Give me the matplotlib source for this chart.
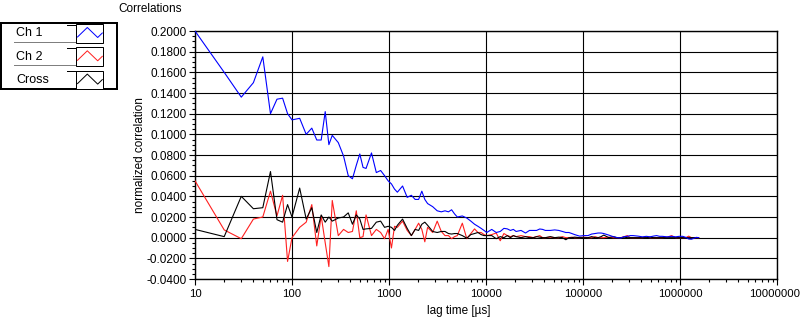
import matplotlib
matplotlib.use("Agg")
import matplotlib.pyplot as plt
from matplotlib.patches import Rectangle
from matplotlib.ticker import FixedLocator, NullFormatter, FuncFormatter
from matplotlib.transforms import ScaledTranslation
import numpy as np

plt.rcParams['font.family'] = ['Liberation Sans', 'DejaVu Sans']

# ---------------- data ----------------
lag_time = [10, 20, 30, 40, 50, 60, 70, 80, 90, 100,
            120, 140, 160, 180, 200, 220, 240, 260,
            300, 340, 380, 420, 460, 500, 540, 580,
            660, 740, 820, 900, 980, 1060, 1140, 1220,
            1380, 1540, 1700, 1860, 2020, 2180, 2340, 2500,
            2820, 3140, 3460, 3780, 4100, 4420, 4740, 5060,
            5700, 6340, 6980, 7620, 8260, 8900, 9540, 10180,
            11460, 12740, 14020, 15300, 16580, 17860, 19140, 20420,
            22980, 25540, 28100, 30660, 33220, 35780, 38340, 40900,
            46020, 51140, 56260, 61380, 66500, 71620, 76740, 81860,
            92100, 102340, 112580, 122820, 133060, 143300, 153540, 163780,
            184260, 204740, 225220, 245700, 266180, 286660, 307140, 327620,
            368580, 409540, 450500, 491460, 532420, 573380, 614340, 655300,
            737220, 819140, 901060, 982980, 1064900, 1146820, 1228740, 1310660,
            1474500, 1556420]

ch1 = [0.200, 0.160, 0.136, 0.150, 0.175, 0.120, 0.134, 0.135, 0.120, 0.114,
       0.1155, 0.100, 0.106, 0.0945, 0.0945, 0.122, 0.090, 0.099,
       0.092, 0.079, 0.060, 0.057, 0.070, 0.081, 0.068, 0.067,
       0.082, 0.063, 0.065, 0.060, 0.055, 0.052, 0.047, 0.044,
       0.050, 0.039, 0.041, 0.037, 0.037, 0.045, 0.037, 0.033,
       0.030, 0.026, 0.025, 0.026, 0.025, 0.027, 0.023, 0.020,
       0.021, 0.019, 0.016, 0.013, 0.011, 0.009, 0.007, 0.005,
       0.008, 0.005, 0.006, 0.009, 0.0085, 0.007, 0.008, 0.006,
       0.007, 0.0045, 0.007, 0.007, 0.007, 0.0084, 0.008, 0.007,
       0.007, 0.0075, 0.007, 0.006, 0.005, 0.005, 0.004, 0.003,
       0.0015, 0.002, 0.002, 0.0035, 0.004, 0.0045, 0.0045, 0.004,
       0.0025, 0.001, 0.0, -0.0003, 0.001, 0.0013, 0.002, 0.002,
       0.0015, 0.0008, 0.0013, 0.0008, 0.0015, 0.002, 0.0013, 0.0013,
       0.0008, 0.0013, 0.0008, 0.0013, 0.0013, 0.0003, -0.0013, -0.0015,
       0.0003, 0.000]

ch2 = [0.055, 0.0075, -0.001, 0.018, 0.020, 0.045, 0.021, 0.041, -0.023, 0.000,
       0.010, 0.015, 0.032, -0.008, 0.021, -0.005, -0.028, 0.036,
       0.002, 0.008, 0.005, 0.006, 0.026, 0.000, 0.001, 0.022,
       0.002, 0.008, 0.005, -0.001, 0.008, -0.010, 0.011, 0.010,
       0.016, 0.007, 0.002, 0.008, 0.014, 0.008, -0.004, 0.010,
       0.005, 0.016, 0.006, 0.002, 0.002, -0.001, 0.001, 0.002,
       0.014, -0.001, 0.004, 0.0085, 0.005, 0.005, 0.003, 0.002,
       0.003, 0.0045, -0.003, 0.004, 0.002, 0.001, 0.002, 0.001,
       0.002, 0.001, 0.001, 0.000, 0.001, 0.002, 0.000, 0.000,
       0.0005, 0.000, 0.000, 0.001, 0.000, 0.000, 0.0005, 0.000,
       0.000, 0.0005, 0.000, 0.000, 0.001, 0.000, 0.000, 0.000,
       0.0005, 0.000, 0.000, 0.000, 0.001, 0.002, 0.000, 0.000,
       0.000, 0.000, 0.0005, 0.000, 0.000, 0.000, 0.000, 0.000,
       0.0005, 0.002, 0.000, 0.000, 0.000, 0.000, 0.0015, 0.000,
       0.000, 0.000]

cross = [0.008, 0.001, 0.040, 0.028, 0.029, 0.064, 0.0174, 0.015, 0.032, 0.020,
         0.048, 0.018, 0.029, 0.005, 0.022, 0.015, 0.020, 0.016,
         0.019, 0.020, 0.024, 0.013, 0.022, 0.018, 0.008, 0.0085,
         0.009, 0.015, 0.016, 0.010, 0.011, 0.010, 0.007, 0.012,
         0.018, 0.009, 0.002, 0.008, 0.007, 0.013, 0.015, 0.012,
         0.006, 0.005, 0.006, 0.006, 0.004, 0.0035, 0.004, 0.004,
         0.002, -0.0005, 0.003, 0.004, 0.005, 0.003, 0.002, 0.002,
         0.002, -0.001, 0.001, 0.000, 0.002, 0.000, 0.002, 0.001,
         0.000, 0.001, 0.000, 0.000, 0.001, 0.0005, 0.000, 0.000,
         0.001, 0.000, 0.0005, 0.000, -0.002, 0.000, 0.000, 0.0005,
         0.000, 0.000, 0.000, 0.001, 0.000, 0.000, 0.001, 0.0025,
         0.000, 0.001, 0.000, 0.000, 0.0005, 0.000, 0.000, 0.000,
         0.000, 0.000, 0.000, 0.0005, 0.000, 0.000, 0.000, 0.000,
         0.000, 0.000, 0.000, 0.000, 0.000, 0.000, 0.000, 0.000,
         0.000, 0.000]

series_names = ["Ch 1", "Ch 2", "Cross"]
series_colors = ["#0000ff", "#ff2020", "#000000"]
x_ticks = [10, 100, 1000, 10000, 100000, 1000000, 10000000]
y_ticks = [-0.04, -0.02, 0.0, 0.02, 0.04, 0.06, 0.08, 0.10, 0.12, 0.14, 0.16, 0.18, 0.20]

# ---------------- figure ----------------
W, H = 801, 321
fig = plt.figure(figsize=(W / 100, H / 100), dpi=100)
L, R, T, B = 195, 777, 31, 279
ax = fig.add_axes([L / W, 1 - B / H, (R - L) / W, (B - T) / H])

px = 0.72
for vals, c in zip([ch2, cross, ch1], [series_colors[1], series_colors[2], series_colors[0]]):
    ax.plot(lag_time, vals, color=c, lw=0.8, zorder=3)

ax.set_xscale('log')
ax.set_xlim(10, 1e7)
ax.set_ylim(-0.04, 0.2)
ax.xaxis.set_major_locator(FixedLocator(x_ticks))
ax.xaxis.set_major_formatter(FuncFormatter(lambda v, p: f"{int(round(v))}"))
minors = [m * d for d in [10, 100, 1000, 10000, 100000, 1000000] for m in range(2, 10)]
ax.xaxis.set_minor_locator(FixedLocator(minors))
ax.xaxis.set_minor_formatter(NullFormatter())
ax.yaxis.set_major_locator(FixedLocator(y_ticks))
ax.yaxis.set_major_formatter(FuncFormatter(lambda v, p: f"{v:.4f}"))
ax.yaxis.set_minor_locator(FixedLocator(np.arange(-0.04, 0.2001, 0.005)))

ax.grid(True, which='major', color='black', lw=0.8)
ax.set_axisbelow(True)
for s in ax.spines.values():
    s.set_color('black')
    s.set_linewidth(1.0)

ax.tick_params(which='major', length=4.5, width=0.8, pad=1.5, labelsize=8.5, colors='black')
ax.tick_params(which='minor', length=2.5, width=0.8)
ax.tick_params(axis='x', which='major', pad=3, labelsize=8.2)

ax.set_ylabel("normalized correlation", fontsize=8.5, labelpad=0)
ax.set_xlabel("lag time [µs]", fontsize=8.5, labelpad=4)
ax.xaxis.set_label_coords((459 - L) / (R - L), -0.105)

fig.canvas.draw()
last = ax.get_xticklabels()[-1]
last.set_transform(last.get_transform() + ScaledTranslation(-2.5 / 100, 0, fig.dpi_scale_trans))

# title
fig.text(118 / W, 1 - 9 / H, "Correlations", fontsize=8.5, va='center', ha='left')

# legend drawn in pixel coords
ov = fig.add_axes([0, 0, 1, 1], zorder=5)
ov.set_xlim(0, W)
ov.set_ylim(H, 0)
ov.axis('off')
ov.add_patch(Rectangle((1, 23), 116, 66, fill=False, edgecolor='black', lw=2 * px))
for i, (name, c) in enumerate(zip(series_names, series_colors)):
    y0 = 24 + i * 23.3
    ov.text(16, y0 + 9.5, name, fontsize=9, va='center', ha='left')
    ov.plot([14, 75], [y0 + 17.5, y0 + 17.5], color='black', lw=px, ls=(0, (1, 1)))
    ov.plot([67, 76], [y0 + 0.5, y0 + 0.5], color='black', lw=px)
    ov.add_patch(Rectangle((76, y0), 27, 18.5, facecolor='white', edgecolor='black', lw=px))
    ov.plot([77.5, 87.3, 97.7, 102.3], [y0 + 13, y0 + 3.5, y0 + 13.5, y0 + 9],
            color=c, lw=px)

fig.savefig("out.png", dpi=100)
